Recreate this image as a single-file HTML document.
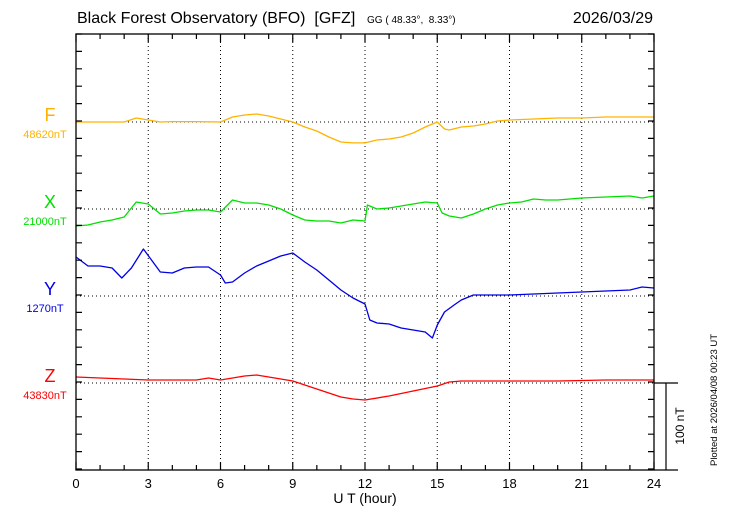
<!DOCTYPE html>
<html><head><meta charset="utf-8"><style>
html,body{margin:0;padding:0;background:#fff;}
svg{display:block;font-family:"Liberation Sans",sans-serif;}
text{white-space:pre;}
</style></head><body>
<svg id="chart" width="730" height="520" viewBox="0 0 730 520" xmlns="http://www.w3.org/2000/svg">
<text x="77" y="23" font-size="16" xml:space="preserve">Black Forest Observatory (BFO)  [GFZ]</text>
<text x="367" y="23" font-size="10" xml:space="preserve">GG ( 48.33°,  8.33°)</text>
<text x="653" y="23" font-size="16" text-anchor="end">2026/03/29</text>
<text x="365" y="503" font-size="14" text-anchor="middle">U T (hour)</text>
<text transform="translate(717,400) rotate(-90)" font-size="9.5" text-anchor="middle">Plotted at 2026/04/08 00:23 UT</text>
<text transform="translate(684,426) rotate(-90)" font-size="12" text-anchor="middle">100 nT</text>
<g id="grid"></g><g id="series"></g><g id="frame"></g>
</svg>
<script>
const hours = [0,3,6,9,12,15,18,21,24];
const fT = [0,1,2,2.5,3,3.5,4,5,6,6.5,7,7.5,8,8.5,9,9.5,10,10.5,11,11.5,12,12.5,13,13.5,14,14.5,15,15.3,15.5,16,16.5,17,17.5,18,19,20,21,22,23,24];
const fV = [0,0,0,4.6,2.3,0,0.5,0.5,0,5.7,8,9.2,6.9,3.4,0,-5.7,-10.3,-17.2,-23,-24,-24,-20.7,-19.5,-17.2,-12.6,-5.7,0,-8,-9.2,-5.7,-4.6,-2.3,1.1,2.3,3.4,4.6,4.6,5.7,5.7,5.7];
const xT = [0,0.5,1,1.5,2,2.5,3,3.5,4,4.5,5,5.5,6,6.5,7,7.5,8,8.5,9,9.5,10,10.5,11,11.5,12,12.1,12.5,13,13.5,14,14.5,15,15.2,15.5,16,16.5,17,17.5,18,18.5,19,19.5,20,21,22,23,23.5,24];
const xV = [-19.5,-18.4,-14.9,-12.6,-9.2,8,5.7,-5.7,-4.6,-2.3,-1.1,-1.1,-3.4,10.3,6.9,6.9,4.6,0,-6.9,-12.6,-13.8,-13.8,-16.1,-12.6,-13.8,4.6,0,1.1,3.4,5.7,8,6.9,-4.6,-8,-10.3,-5.7,0,4.6,6.9,8,11.5,10.3,10.3,12.6,13.8,14.9,12.6,14.9];
const yT = [0,0.5,1,1.5,1.9,2.3,2.8,3.5,4,4.5,5,5.5,6,6.2,6.5,7,7.5,8,8.5,9,9.5,10,10.5,11,11.5,12,12.2,12.5,13,13.5,14,14.5,14.8,15,15.3,15.7,16,16.5,17,18,19,20,21,22,23,23.5,24];
const yV = [44.8,34.5,34.5,32.2,20.7,32.2,54,27.6,26.4,32.2,33.3,33.3,24.1,14.9,16.1,26.4,34.5,40.2,46,49.4,39.1,29.9,18.4,6.9,-2.3,-9.2,-27.6,-31,-32.2,-36.8,-39.1,-41.4,-48.3,-33.3,-18.4,-10.3,-4.6,1.1,1.1,1.1,2.3,3.4,4.6,5.7,6.9,10.3,9.2];
const zT = [0,1,2,3,4,5,5.5,6,7,7.5,8,9,10,11,11.5,12,13,14,15,15.5,16,17,18,20,22,24];
const zV = [6.9,5.7,4.6,3.4,3.4,3.4,5.7,3.4,8,9.2,6.9,2.3,-6.9,-16.1,-18.4,-19.5,-14.9,-9.2,-3.4,1.1,2.3,2.3,2.3,2.3,3.4,3.4];
const seriesNames = ["F","X","Y","Z"];
const seriesBase = ["48620nT","21000nT","1270nT","43830nT"];

const L=76,R=654,T=34,B=470;
const baseY=[122,209,296,383];
const colors=["#ffb300","#00e000","#0000e6","#ff0000"];
const pxPerNT=0.87;
const xs=t=>L+(t/24)*(R-L);
const ys=(i,v)=>baseY[i]-v*pxPerNT;
const NS="http://www.w3.org/2000/svg";
function mk(tag,attrs,parent){const e=document.createElementNS(NS,tag);for(const k in attrs)e.setAttribute(k,attrs[k]);parent.appendChild(e);return e;}
const grid=document.getElementById('grid'),ser=document.getElementById('series'),frame=document.getElementById('frame');
hours.forEach(h=>{
  if(h>0&&h<24){const g=mk('line',{x1:xs(h),x2:xs(h),y1:T,y2:B,stroke:'#000','stroke-width':1,'stroke-dasharray':'1,3'},grid);
  
  }
  const t=mk('text',{x:xs(h),y:488,'font-size':13,'text-anchor':'middle'},frame);t.textContent=h;
  
  
});
baseY.forEach((b,i)=>{const g=mk('line',{x1:L,x2:R,y1:b,y2:b,stroke:'#000','stroke-width':1,'stroke-dasharray':'1,3'},grid);
  
  });
const data=[[fT,fV],[xT,xV],[yT,yV],[zT,zV]];
data.forEach((d,i)=>{
  const pts=d[0].map((t,k)=>xs(t).toFixed(1)+','+ys(i,d[1][k]).toFixed(1)).join(' ');
  const p=mk('polyline',{points:pts,fill:'none',stroke:colors[i],'stroke-width':1.3,'stroke-linejoin':'round'},ser);
  
  
  const n=mk('text',{x:50,y:baseY[i]-1,'font-size':18,fill:colors[i],'text-anchor':'middle'},frame);n.textContent=seriesNames[i];
  
  
  const v=mk('text',{x:45,y:baseY[i]+16,'font-size':11,fill:colors[i],'text-anchor':'middle'},frame);v.textContent=seriesBase[i];
  
  
});
const fr=mk('rect',{x:L,y:T,width:R-L,height:B-T,fill:'none',stroke:'#000','stroke-width':1.3},frame);


let tk='';
for(let h=0;h<=24;h++){const x=xs(h),len=h%3===0?8:5;tk+=`M${x},${T}v${len}M${x},${B}v${-len}`;}
for(let k=0;k<=25;k++){const y=T+k*17.4;if(y>B)break;tk+=`M${L},${y}h6M${R},${y}h-6`;}
tk+=`M${R},${B}h24M${R},383h24M666,383V${B}`;
const tp=mk('path',{d:tk,stroke:'#000','stroke-width':1.2,fill:'none'},frame);


</script>
</body></html>
